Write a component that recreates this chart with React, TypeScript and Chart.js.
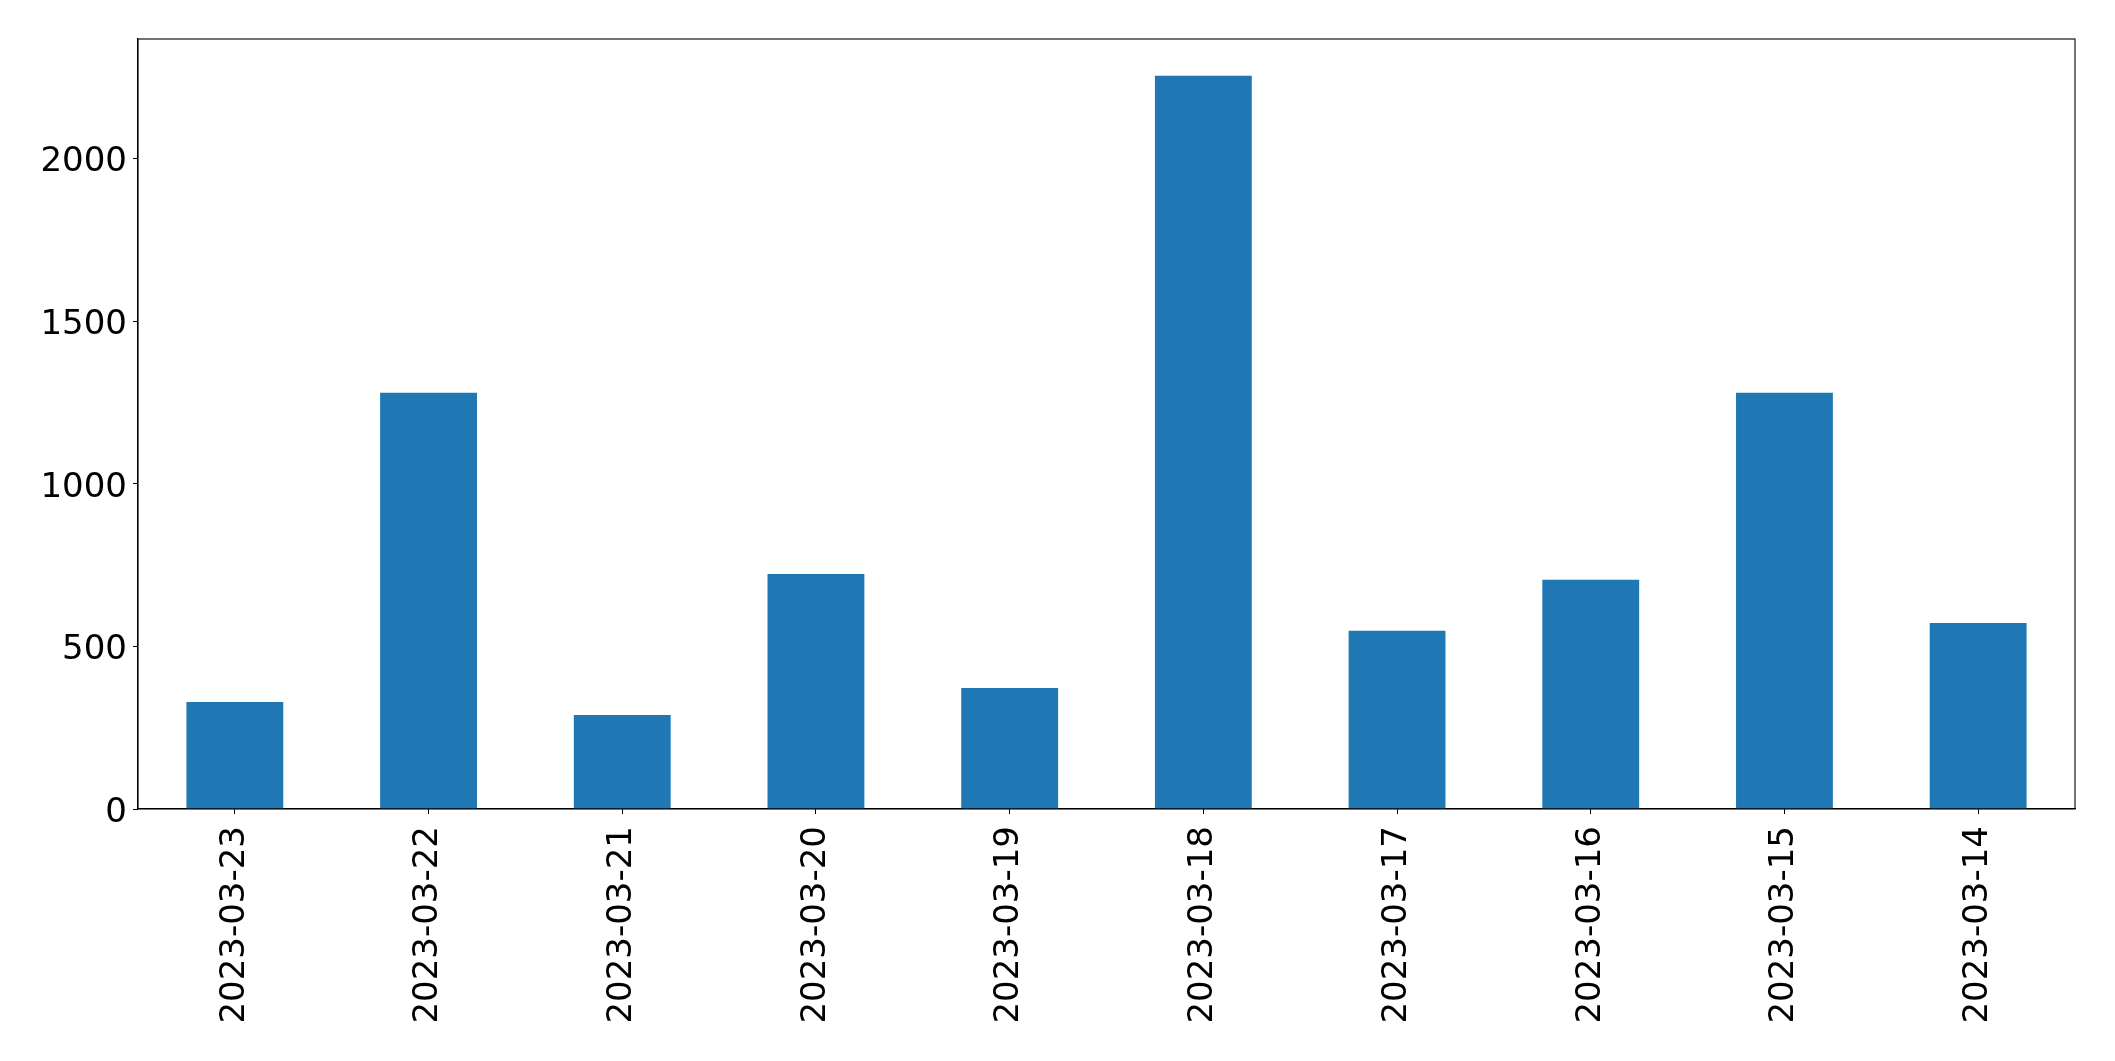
import React, { useEffect, useRef } from "react";
import { Chart, registerables } from "chart.js";

Chart.register(...registerables);

const categories: string[] = [
  "2023-03-23",
  "2023-03-22",
  "2023-03-21",
  "2023-03-20",
  "2023-03-19",
  "2023-03-18",
  "2023-03-17",
  "2023-03-16",
  "2023-03-15",
  "2023-03-14",
];

const values: number[] = [329, 1280, 289, 723, 372, 2255, 548, 705, 1280, 572];

const yTicks: number[] = [0, 500, 1000, 1500, 2000];

const W = 2115;
const H = 1061;
const FONT = "'DejaVu Sans', sans-serif";

const framePlugin = {
  id: "frame",
  afterDraw(chart: any) {
    const { ctx, chartArea } = chart;
    ctx.save();
    ctx.strokeStyle = "#000";
    ctx.lineWidth = 1.1;
    ctx.strokeRect(
      chartArea.left,
      chartArea.top,
      chartArea.right - chartArea.left,
      chartArea.bottom - chartArea.top
    );
    ctx.restore();
  },
};

export default function App() {
  const ref = useRef<HTMLCanvasElement | null>(null);

  useEffect(() => {
    document.body.style.margin = "0";
    if (!ref.current) return;
    const yMax = Math.max(...values) * 1.05;
    const chart = new Chart(ref.current, {
      type: "bar",
      data: {
        labels: categories,
        datasets: [
          {
            data: values,
            backgroundColor: "#1f77b4",
            borderWidth: 0,
            categoryPercentage: 1.0,
            barPercentage: 0.5,
          },
        ],
      },
      plugins: [framePlugin],
      options: {
        animation: false,
        responsive: false,
        maintainAspectRatio: false,
        layout: { padding: { left: 0, top: 39, right: 40, bottom: 0 } },
        plugins: {
          legend: { display: false },
          tooltip: { enabled: false },
        },
        scales: {
          x: {
            offset: true,
            grid: {
              display: true,
              drawOnChartArea: false,
              drawTicks: true,
              tickLength: 5,
              color: "#000",
              offset: false,
            },
            border: { display: true, color: "#000", width: 1.1 },
            ticks: {
              color: "#000",
              font: { family: FONT, size: 34 },
              minRotation: 90,
              maxRotation: 90,
              padding: 12,
              autoSkip: false,
            },
            afterFit(scale: any) {
              scale.height = H - 809;
            },
          },
          y: {
            min: 0,
            max: yMax,
            grid: {
              display: true,
              drawOnChartArea: false,
              drawTicks: true,
              tickLength: 5,
              color: "#000",
            },
            border: { display: true, color: "#000", width: 1.1 },
            ticks: {
              color: "#000",
              font: { family: FONT, size: 34, lineHeight: "8px" },
              padding: 6,
              includeBounds: false,
              callback: (v: any) => ["", String(v)],
            },
            afterBuildTicks(scale: any) {
              scale.ticks = yTicks.map((v) => ({ value: v }));
            },
            afterFit(scale: any) {
              scale.width = 138;
            },
          },
        },
      },
    });
    return () => chart.destroy();
  }, []);

  return (
    <div style={{ position: "fixed", left: 0, top: 0, width: W, height: H, background: "#fff" }}>
      <canvas ref={ref} width={W} height={H} style={{ width: W, height: H, display: "block" }} />
    </div>
  );
}
